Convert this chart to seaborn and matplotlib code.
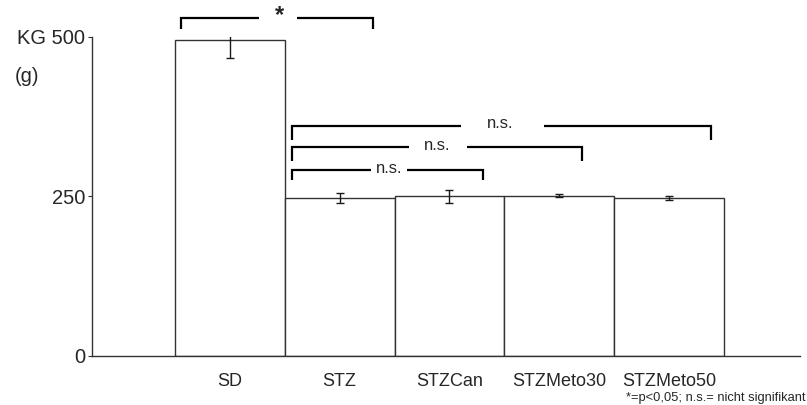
import matplotlib
matplotlib.use("Agg")
import matplotlib.pyplot as plt
import seaborn as sns
import pandas as pd

# Body weight per group (mean and error)
groups = ["SD", "STZ", "STZCan", "STZMeto30", "STZMeto50"]
weight = [495, 248, 250, 251, 247]
weight_err = [28, 8, 10, 2.5, 3]

y_ticks = [0, 250, 500]
y_tick_labels = ["0", "250", "KG 500"]

# Significance brackets:
# (x_start, x_end, y_line, y_tip, label, label_x, gap_start, gap_end)
brackets = [
    (-0.44, 1.305, 530, 512, "*", 0.45, 0.268, 0.614),
    (0.565, 2.31, 291, 275, "n.s.", 1.455, 1.286, 1.611),
    (0.565, 3.21, 327, 305, "n.s.", 1.884, 1.632, 2.159),
    (0.565, 4.386, 361, 339, "n.s.", 2.46, 2.105, 2.859),
]

sns.set_style("ticks")
plt.rcParams["font.family"] = ["Liberation Sans", "DejaVu Sans"]

fig = plt.figure(figsize=(8.07, 4.05), dpi=100)
ax = fig.add_axes([0.114, 0.121, 0.877, 0.788])

df = pd.DataFrame({"group": groups, "weight": weight})
sns.barplot(data=df, x="group", y="weight", ax=ax, width=1.0,
            color="white", edgecolor="0.2", linewidth=1.0, errorbar=None)
for p in ax.patches:
    p.set_facecolor("white")

ax.errorbar(range(len(groups)), weight, yerr=weight_err, fmt="none",
            ecolor="0.1", elinewidth=1.0, capsize=3, capthick=1.0)

ax.set_xlim(-1.255, 5.19)
ax.set_ylim(0, 500)
ax.set_yticks(y_ticks)
ax.set_yticklabels(y_tick_labels, fontsize=14.5)
ax.set_xlabel("")
ax.set_ylabel("")
ax.tick_params(axis="x", length=0, pad=12, labelsize=13)
ax.tick_params(axis="y", length=3, width=0.8, pad=2, color="0.2")
sns.despine(ax=ax)
for s in ("left", "bottom"):
    ax.spines[s].set_color("0.2")
    ax.spines[s].set_linewidth(1.0)

for x0, x1, yl, yt, lab, lx, g0, g1 in brackets:
    kw = dict(color="black", lw=1.6, clip_on=False, solid_joinstyle="miter",
              solid_capstyle="butt")
    ax.plot([x0, x0, g0], [yt, yl, yl], **kw)
    ax.plot([g1, x1, x1], [yl, yl, yt], **kw)
    if lab == "*":
        ax.text(lx, yl + 4, lab, ha="center", va="center", fontsize=17,
                fontweight="bold", clip_on=False)
    else:
        ax.text(lx, yl + 3, lab, ha="center", va="center", fontsize=12,
                clip_on=False)

fig.text(15 / 807, 1 - 76 / 405, "(g)", fontsize=14.5, ha="left", va="center")
fig.text(806 / 807, 1 - 398 / 405, "*=p<0,05; n.s.= nicht signifikant",
         fontsize=9.3, ha="right", va="center")

fig.savefig("out.png", dpi=100)
